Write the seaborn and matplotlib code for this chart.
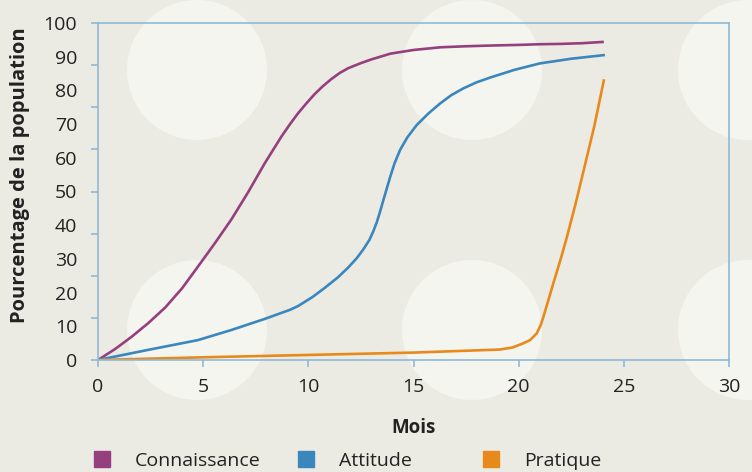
import numpy as np
import pandas as pd
import seaborn as sns
import matplotlib
matplotlib.use("Agg")
import matplotlib.pyplot as plt
from matplotlib.patches import Ellipse
from matplotlib.lines import Line2D

# ---- data ----
conn_x = [0, 0.8, 1.6, 2.4, 3.2, 4.0, 4.75, 5.55, 6.34, 7.13, 7.93, 8.72, 9.13, 9.51, 9.9, 10.3, 10.7,
          11.1, 11.5, 11.9, 12.5, 13.0, 13.9, 15.0, 16.3, 17.5, 18.6, 20.0, 21.0, 22.0, 23.0, 24.05]
conn_y = [0, 3.2, 6.9, 11.0, 15.6, 21.3, 27.7, 34.6, 41.7, 49.7, 58.4, 66.3, 70.0, 73.2, 76.1, 78.9, 81.3,
          83.4, 85.2, 86.6, 88.1, 89.2, 90.9, 92.0, 92.8, 93.1, 93.3, 93.5, 93.7, 93.8, 94.0, 94.4]

att_x = [0, 2.38, 4.75, 6.34, 7.93, 9.13, 9.51, 10.2, 10.78, 11.4, 11.89, 12.3, 12.6, 12.9, 13.09, 13.25, 13.4,
         13.57, 13.89, 14.1, 14.36, 14.7, 15.15, 15.7, 16.26, 16.8, 17.37, 18.0, 18.64, 19.8, 21.0, 22.5, 24.1]
att_y = [0, 3.0, 5.9, 8.9, 12.2, 14.9, 16.0, 18.7, 21.4, 24.5, 27.4, 30.2, 32.7, 35.6, 38.2, 40.8, 43.8,
         47.5, 54.3, 58.4, 62.3, 66.0, 69.7, 73.1, 76.1, 78.6, 80.6, 82.4, 83.8, 86.1, 88.0, 89.4, 90.5]

pra_x = [0, 5, 10, 15, 19.1, 19.7, 20.2, 20.54, 20.86, 21.05, 21.18, 21.4, 21.65, 22.0, 22.29, 22.7, 23.08, 23.6, 24.06]
pra_y = [0, 0.8, 1.5, 2.2, 3.1, 3.7, 4.9, 5.9, 7.9, 10.4, 12.9, 17.5, 22.8, 30.0, 36.4, 46.2, 56.0, 69.5, 83.3]

series_names = ["Connaissance", "Attitude", "Pratique"]
colors = ["#963f7e", "#3a87be", "#e8891c"]

x_ticks = [0, 5, 10, 15, 20, 25, 30]
y_labels = [0, 10, 20, 30, 40, 50, 60, 70, 80, 90, 100]
y_marks = [0, 12.5, 25, 37.5, 50, 62.5, 75, 87.5, 100]

df = pd.concat([
    pd.DataFrame({"Mois": conn_x, "Pourcentage": conn_y, "Série": series_names[0]}),
    pd.DataFrame({"Mois": att_x, "Pourcentage": att_y, "Série": series_names[1]}),
    pd.DataFrame({"Mois": pra_x, "Pourcentage": pra_y, "Série": series_names[2]}),
], ignore_index=True)

sns.set_theme(style="white")
plt.rcParams["font.family"] = ["Open Sans", "DejaVu Sans"]

W, H = 752, 472
bg = "#ecebe3"
fig = plt.figure(figsize=(W / 100, H / 100), dpi=100, facecolor=bg)

# decorative circles
for cx, cy in [(197, 70), (472, 70), (748, 70), (197, 330), (472, 330), (748, 330)]:
    r = 70
    e = Ellipse((cx / W, 1 - cy / H), 2 * r / W, 2 * r / H, transform=fig.transFigure,
                facecolor="#f5f5f0", edgecolor="none", zorder=-5)
    fig.add_artist(e)

ax = fig.add_axes([98 / W, 1 - 360 / H, (729 - 98) / W, (360 - 23) / H])
ax.set_facecolor("none")

sns.lineplot(data=df, x="Mois", y="Pourcentage", hue="Série", hue_order=series_names,
             palette=colors, linewidth=1.9, ax=ax, legend=False, sort=False)
for ln in ax.lines:
    ln.set_solid_joinstyle("round")
    ln.set_solid_capstyle("butt")

ax.set_xlim(0, 30)
ax.set_ylim(0, 100)

spine_col = "#8fb9d6"
for s in ax.spines.values():
    s.set_visible(True)
    s.set_color(spine_col)
    s.set_linewidth(1.2)

ax.set_xticks(x_ticks)
ax.tick_params(axis="x", which="major", direction="out", length=5, width=1.2,
               color=spine_col, pad=8, labelsize=14, labelcolor="#222222", bottom=True)

ax.set_yticks(y_labels)
ax.set_yticks(y_marks, minor=True)
ax.yaxis.remove_overlapping_locs = False
ax.tick_params(axis="y", which="major", length=0, pad=15, labelsize=14, labelcolor="#222222", left=True)
ax.tick_params(axis="y", which="minor", direction="out", length=5, width=1.2, color=spine_col, left=True)

ax.set_xlabel("Mois", fontsize=13.5, fontweight="bold", color="#222222", labelpad=16)
ax.set_ylabel("Pourcentage de la population", fontsize=14.5, fontweight="bold", color="#222222")
ax.yaxis.set_label_coords(-0.107, 0.55)

# legend: three entries at their own positions
leg_pos = [99, 303, 488]
for name, col, px in zip(series_names, colors, leg_pos):
    h = Line2D([], [], marker="s", linestyle="none", markersize=11, color=col)
    fig.legend([h], [name], loc="center left", bbox_to_anchor=(px / W - 0.012, 1 - 461 / H),
               frameon=False, fontsize=14, handletextpad=1.1, handlelength=1.2,
               borderpad=0, borderaxespad=0, labelcolor="#222222")

fig.savefig("out.png", dpi=100, facecolor=bg)
